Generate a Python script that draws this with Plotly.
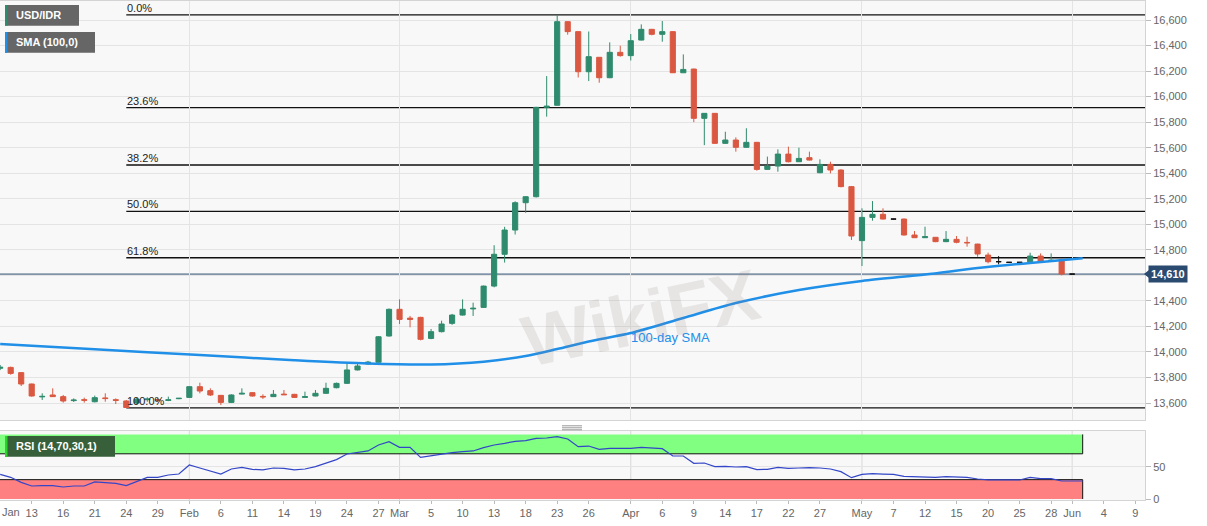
import plotly.graph_objects as go
import pandas as pd

W, H = 1207, 526
ML, MR, MT, MB = 0, 62, 1, 26
PW, PH = W - ML - MR, H - MT - MB


def xp(px):
    return (px - ML) / PW


def yp(py):
    return (H - MB - py) / PH


# ---------------- data ----------------
# trading-day axis (weekdays, 1 May missing from the feed); the last slots are empty future days
days = [d.strftime("%Y-%m-%d") for d in pd.bdate_range("2020-01-08", "2020-06-09")
        if d.strftime("%Y-%m-%d") != "2020-05-01"]
pos = {d: i for i, d in enumerate(days)}

candle_dates = days[:103]
opens = [13872, 13879, 13838, 13749, 13648, 13663, 13650, 13619, 13626, 13610,
         13640, 13626, 13616, 13600, 13626, 13628, 13620, 13634, 13644, 13728,
         13697, 13660, 13605, 13670, 13681, 13652, 13650, 13670, 13668, 13644,
         13655, 13676, 13720, 13754, 13859, 13906, 13919, 14125, 14334, 14265,
         14271, 14106, 14159, 14224, 14289, 14337, 14349, 14516, 14765, 14955,
         15169, 15216, 15916, 15932, 16587, 16509, 16195, 16308, 16148, 16347,
         16321, 16443, 16527, 16488, 16509, 16187, 16216, 15830, 15869, 15634,
         15660, 15603, 15642, 15430, 15456, 15550, 15490, 15522, 15404, 15469,
         15425, 15295, 14872, 15054, 15078, 15041, 15041, 14916, 14895, 14898,
         14864, 14882, 14858, 14845, 14759, 14707, 14702, 14702, 14707, 14751,
         14712, 14720, 14610]
highs = [13898, 13885, 13843, 13752, 13676, 13715, 13663, 13636, 13642, 13658,
         13676, 13636, 13624, 13640, 13645, 13640, 13650, 13640, 13732, 13759,
         13715, 13663, 13668, 13715, 13686, 13668, 13702, 13702, 13672, 13689,
         13702, 13759, 13760, 13916, 13906, 13930, 14125, 14340, 14412, 14282,
         14275, 14180, 14245, 14298, 14412, 14386, 14520, 14836, 14980, 15180,
         15220, 15920, 16161, 16640, 16590, 16510, 16510, 16310, 16425, 16399,
         16490, 16566, 16530, 16592, 16510, 16331, 16219, 15869, 15870, 15725,
         15681, 15752, 15645, 15530, 15587, 15608, 15600, 15569, 15509, 15490,
         15430, 15300, 15125, 15182, 15125, 15043, 15045, 14947, 14981, 14900,
         14947, 14908, 14903, 14848, 14778, 14751, 14702, 14702, 14777, 14772,
         14772, 14733, 14612]
lows = [13858, 13822, 13733, 13650, 13624, 13647, 13603, 13608, 13603, 13605,
        13610, 13592, 13562, 13590, 13610, 13610, 13615, 13630, 13640, 13676,
        13655, 13584, 13600, 13668, 13650, 13632, 13647, 13663, 13640, 13640,
        13652, 13672, 13715, 13750, 13855, 13900, 13915, 14120, 14219, 14193,
        14091, 14100, 14153, 14212, 14285, 14282, 14345, 14506, 14700, 14920,
        15090, 15210, 15843, 15930, 16485, 16150, 16122, 16109, 16145, 16313,
        16283, 16440, 16480, 16430, 16185, 16185, 15800, 15620, 15630, 15630,
        15569, 15600, 15420, 15428, 15412, 15485, 15488, 15500, 15400, 15399,
        15290, 14877, 14673, 15028, 15038, 15038, 14912, 14893, 14893, 14860,
        14860, 14851, 14825, 14746, 14694, 14686, 14702, 14702, 14705, 14705,
        14707, 14600, 14608]
closes = [13880, 13832, 13749, 13655, 13652, 13650, 13616, 13623, 13622, 13642,
          13635, 13621, 13565, 13630, 13631, 13622, 13625, 13637, 13728, 13694,
          13663, 13605, 13663, 13676, 13655, 13648, 13668, 13665, 13644, 13650,
          13676, 13715, 13754, 13859, 13890, 13921, 14119, 14334, 14255, 14255,
          14099, 14159, 14219, 14289, 14334, 14342, 14516, 14765, 14955, 15169,
          15216, 15916, 15925, 16587, 16509, 16195, 16313, 16148, 16347, 16321,
          16438, 16527, 16488, 16509, 16187, 16213, 15830, 15869, 15634, 15660,
          15603, 15642, 15430, 15456, 15550, 15490, 15516, 15503, 15469, 15425,
          15295, 14908, 15054, 15078, 15041, 15041, 14916, 14895, 14903, 14864,
          14882, 14859, 14855, 14767, 14707, 14707, 14702, 14702, 14751, 14707,
          14718, 14610, 14610]
flat_days = ["2020-05-07", "2020-05-21", "2020-05-22", "2020-05-25", "2020-06-01"]

rsi_dates = days[:104]
rsi = [38.2, 33.6, 25.8, 20.2, 20.7, 20.7, 18.6, 20.2, 20.2, 26.4,
       25.3, 24.3, 20.7, 26.9, 33.6, 33.6, 37.2, 38.7, 52.7, 48.0,
       43.4, 38.7, 46.5, 49.1, 46.0, 45.0, 48.0, 47.5, 45.0, 46.5,
       50.1, 55.3, 61.0, 69.7, 72.3, 74.4, 83.6, 88.8, 80.0, 80.0,
       64.5, 67.1, 69.7, 71.8, 73.3, 74.4, 79.5, 83.6, 86.2, 89.3,
       90.3, 94.0, 94.5, 96.5, 92.9, 81.0, 82.0, 76.9, 78.5, 78.0,
       78.5, 80.0, 78.5, 78.0, 66.6, 66.6, 55.3, 55.8, 50.1, 50.6,
       49.6, 50.1, 45.5, 46.0, 49.1, 47.5, 48.0, 48.6, 48.0, 46.5,
       42.4, 33.1, 38.2, 39.3, 38.7, 38.2, 35.1, 34.6, 34.6, 33.6,
       34.6, 34.1, 33.6, 31.0, 29.5, 29.5, 30.0, 29.5, 33.6, 31.5,
       31.5, 27.9, 27.9, 27.9]

sma_dates = ["2020-01-08", "2020-01-21", "2020-02-04", "2020-02-17", "2020-02-26",
             "2020-03-05", "2020-03-12", "2020-03-18", "2020-03-23", "2020-03-26",
             "2020-04-01", "2020-04-08", "2020-04-15", "2020-04-23", "2020-05-04",
             "2020-05-12", "2020-05-19", "2020-05-26", "2020-06-02"]
sma = [14062, 14021, 13976, 13935, 13909, 13902, 13924, 13968, 14023, 14082,
       14148, 14266, 14383, 14485, 14556, 14607, 14657, 14697, 14733]

fib_high, fib_low = 16640, 13562
fib_low_date = "2020-01-24"
fib_ratios = [0.0, 0.236, 0.382, 0.5, 0.618, 1.0]
fib_labels = ["0.0%", "23.6%", "38.2%", "50.0%", "61.8%", "100.0%"]
last_price = 14610

tick_dates = ["2020-01-13", "2020-01-16", "2020-01-21", "2020-01-24", "2020-01-29",
              "2020-02-03", "2020-02-06", "2020-02-11", "2020-02-14", "2020-02-19",
              "2020-02-24", "2020-02-27", "2020-03-02", "2020-03-05", "2020-03-10",
              "2020-03-13", "2020-03-18", "2020-03-23", "2020-03-26", "2020-04-01",
              "2020-04-06", "2020-04-09", "2020-04-14", "2020-04-17", "2020-04-22",
              "2020-04-27", "2020-05-04", "2020-05-07", "2020-05-12", "2020-05-15",
              "2020-05-20", "2020-05-25", "2020-05-28", "2020-06-01", "2020-06-04",
              "2020-06-09"]
tick_text = ["13", "16", "21", "24", "29", "Feb", "6", "11", "14", "19", "24", "27",
             "Mar", "5", "10", "13", "18", "23", "26", "Apr", "6", "9", "14", "17",
             "22", "27", "May", "7", "12", "15", "20", "25", "28", "Jun", "4", "9"]
month_dates = ["2020-02-03", "2020-03-02", "2020-04-01", "2020-05-04", "2020-06-01"]

# ---------------- styles ----------------
GREEN = "#2f8b6d"
RED = "#da5841"
FONT = "Liberation Sans, Arial, sans-serif"
GRID = "#e4e4e4"
BORDER = "#d4d4d4"
PLOTBG = "#f8f8f8"
SMA_C = "#1f8fe8"
NAVY = "#2b4a70"
WM = "rgba(150,130,130,0.17)"

XMIN, XMAX = -0.016, 108.93

fig = go.Figure()

main_idx = [i for i, d in enumerate(candle_dates) if d not in flat_days]
flat_idx = [i for i, d in enumerate(candle_dates) if d in flat_days]


def sel(arr, idx):
    return [arr[i] for i in idx]


fig.add_trace(go.Candlestick(
    x=[pos[candle_dates[i]] for i in main_idx],
    open=sel(opens, main_idx), high=sel(highs, main_idx),
    low=sel(lows, main_idx), close=sel(closes, main_idx),
    increasing=dict(line=dict(color=GREEN, width=1), fillcolor=GREEN),
    decreasing=dict(line=dict(color=RED, width=1), fillcolor=RED),
    whiskerwidth=0, hoverinfo="skip", showlegend=False, xaxis="x", yaxis="y"))
fig.add_trace(go.Candlestick(
    x=[pos[candle_dates[i]] for i in flat_idx],
    open=sel(opens, flat_idx), high=sel(highs, flat_idx),
    low=sel(lows, flat_idx), close=sel(closes, flat_idx),
    increasing=dict(line=dict(color="#111111", width=1), fillcolor="#111111"),
    decreasing=dict(line=dict(color="#111111", width=1), fillcolor="#111111"),
    whiskerwidth=0, hoverinfo="skip", showlegend=False, xaxis="x", yaxis="y"))

fig.add_trace(go.Scatter(
    x=[pos[d] for d in sma_dates], y=sma, mode="lines",
    line=dict(color=SMA_C, width=2.5, shape="spline", smoothing=0.8),
    hoverinfo="skip", showlegend=False, xaxis="x", yaxis="y"))

fig.add_trace(go.Scatter(
    x=[pos[d] for d in rsi_dates], y=rsi, mode="lines",
    line=dict(color="#3346c8", width=1.2),
    hoverinfo="skip", showlegend=False, xaxis="x2", yaxis="y2"))

shapes = []
annotations = []

# faint site watermark
annotations.append(dict(xref="paper", yref="paper", x=xp(640), y=yp(318), text="<b>WikiFX</b>",
                        showarrow=False, xanchor="center", yanchor="middle", textangle=-12,
                        font=dict(family=FONT, size=72, color=WM)))

# fibonacci levels
x_low = pos[fib_low_date]
for r, lab in zip(fib_ratios, fib_labels):
    lvl = fib_high - r * (fib_high - fib_low)
    shapes.append(dict(type="line", xref="x", yref="y", x0=x_low, x1=XMAX, y0=lvl, y1=lvl,
                       line=dict(color="#111111", width=1.3), layer="below"))
    annotations.append(dict(xref="x", yref="y", x=x_low, y=lvl, text=lab, showarrow=False,
                            xanchor="left", yanchor="bottom", xshift=-1, yshift=-1,
                            font=dict(family=FONT, size=11, color="#222222")))

# last price line + label
shapes.append(dict(type="line", xref="paper", yref="y", x0=0, x1=1, y0=last_price, y1=last_price,
                   line=dict(color=NAVY, width=1), layer="below"))
dy = 4 / 0.12767
shapes.append(dict(type="path", xref="paper", yref="y",
                   path=f"M {xp(1144)} {last_price} L {xp(1149)} {last_price + dy} "
                        f"L {xp(1149)} {last_price - dy} Z",
                   fillcolor=NAVY, line=dict(width=0)))
annotations.append(dict(xref="paper", yref="y", x=xp(1148), y=last_price, text="<b>14,610</b>",
                        showarrow=False, xanchor="left", yanchor="middle", bgcolor=NAVY,
                        borderpad=2, font=dict(family=FONT, size=11, color="white")))

# RSI bands
x_end = pos[rsi_dates[-1]]
shapes.append(dict(type="rect", xref="x2", yref="y2", x0=XMIN, x1=x_end, y0=70, y1=100,
                   fillcolor="#80ff80", line=dict(width=0), layer="below"))
shapes.append(dict(type="rect", xref="x2", yref="y2", x0=XMIN, x1=x_end, y0=0, y1=30,
                   fillcolor="#ff8080", line=dict(width=0), layer="below"))
for y0, y1 in [(70, 100), (0, 30)]:
    shapes.append(dict(type="line", xref="x2", yref="y2", x0=x_end, x1=x_end, y0=y0, y1=y1,
                       line=dict(color="#111111", width=1), layer="below"))
for lvl in [70, 30]:
    shapes.append(dict(type="line", xref="x2", yref="y2", x0=XMIN, x1=x_end, y0=lvl, y1=lvl,
                       line=dict(color="#111111", width=1), layer="below"))
for d in month_dates:
    shapes.append(dict(type="line", xref="x2", yref="y2 domain", x0=pos[d], x1=pos[d], y0=0, y1=1,
                       line=dict(color="rgba(180,180,180,0.45)", width=1), layer="below"))

# legend boxes
def tag(x0, x1, y0, y1, color, stripe, text, tx):
    shapes.append(dict(type="rect", xref="paper", yref="paper", x0=xp(x0), x1=xp(x1),
                       y0=yp(y1), y1=yp(y0), fillcolor=color, line=dict(width=0)))
    shapes.append(dict(type="rect", xref="paper", yref="paper", x0=xp(x0), x1=xp(x0 + 2.5),
                       y0=yp(y1), y1=yp(y0), fillcolor=stripe, line=dict(width=0)))
    annotations.append(dict(xref="paper", yref="paper", x=xp(tx), y=yp((y0 + y1) / 2),
                            text=f"<b>{text}</b>", showarrow=False, xanchor="left",
                            yanchor="middle", font=dict(family=FONT, size=11, color="white")))


tag(5, 79, 5, 25.7, "#666666", GREEN, "USD/IDR", 14)
tag(5, 95, 32, 52.7, "#666666", SMA_C, "SMA (100,0)", 14)
tag(5, 115, 436, 456.7, "#375f3a", "#2ad42a", "RSI (14,70,30,1)", 14)

annotations.append(dict(xref="paper", yref="paper", x=xp(670.5), y=yp(337.5), text="100-day SMA",
                        showarrow=False, xanchor="center", yanchor="middle",
                        font=dict(family=FONT, size=13, color=SMA_C)))
annotations.append(dict(xref="paper", yref="paper", x=xp(0), y=yp(512), text="Jan",
                        showarrow=False, xanchor="left", yanchor="middle",
                        font=dict(family=FONT, size=11, color="#666666")))

# panel splitter handle
for py in [425.8, 427.8, 429.8]:
    shapes.append(dict(type="line", xref="paper", yref="paper", x0=xp(562), x1=xp(582),
                       y0=yp(py), y1=yp(py), line=dict(color="#999999", width=1)))

fig.update_layout(
    width=W, height=H, margin=dict(l=ML, r=MR, t=MT, b=MB),
    paper_bgcolor="white", plot_bgcolor=PLOTBG, boxgap=0.3,
    font=dict(family=FONT, size=11, color="#666666"),
    showlegend=False, shapes=shapes, annotations=annotations,
    xaxis=dict(domain=[0, 1], range=[XMIN, XMAX], anchor="y", matches="x2",
               tickvals=[pos[d] for d in month_dates], showticklabels=False, ticks="",
               showgrid=True, gridcolor=GRID, zeroline=False,
               showline=True, mirror=True, linecolor=BORDER,
               rangeslider=dict(visible=False), fixedrange=True),
    yaxis=dict(domain=[yp(420), 1], range=[13467, 16749], side="right",
               tickvals=list(range(13600, 16601, 200)), tickformat=",d",
               ticks="outside", ticklen=5, tickcolor="#bbbbbb",
               tickfont=dict(size=11, color="#666666"),
               showgrid=True, gridcolor=GRID, zeroline=False,
               showline=True, mirror=True, linecolor=BORDER),
    xaxis2=dict(domain=[0, 1], range=[XMIN, XMAX], anchor="y2",
                tickvals=[pos[d] for d in tick_dates], ticktext=tick_text,
                ticks="outside", ticklen=3, tickcolor="#bbbbbb",
                tickfont=dict(size=11, color="#666666"),
                showgrid=False, zeroline=False,
                showline=True, mirror=True, linecolor=BORDER),
    yaxis2=dict(domain=[0, yp(431)], range=[-1.5, 105.3], side="right",
                tickvals=[0, 50], ticks="outside", ticklen=5, tickcolor="#bbbbbb",
                tickfont=dict(size=11, color="#666666"),
                showgrid=True, gridcolor=GRID, zeroline=False,
                showline=True, mirror=True, linecolor=BORDER),
)

fig.write_html("out.html", config={"displayModeBar": False},
               post_script="document.body.style.margin='0';document.body.style.padding='0';")
